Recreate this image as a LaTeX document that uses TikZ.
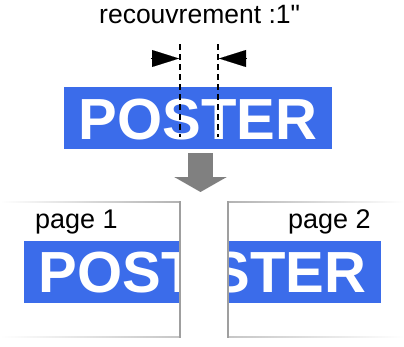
\documentclass[tikz,border=0pt]{standalone}
\usepackage{fontspec}
\setmainfont{Liberation Sans}
\usepackage{tikz}
\usetikzlibrary{arrows.meta}
\definecolor{posterblue}{RGB}{59,108,234}

\begin{document}
\begin{tikzpicture}[x=1pt,y=-1pt,
		bande/.style={fill=posterblue, inner sep=0pt, minimum width=268pt, minimum height=62pt},
		poster/.style={bande, text=white, font=\fontsize{58}{60}\selectfont\bfseries,
			text height=42pt, text depth=0pt},
		morceau/.style={text=white, inner sep=0pt, font=\fontsize{58}{60}\selectfont\bfseries,
			text height=42pt, text depth=0pt},
		lbl/.style={anchor=base west, inner sep=0pt, font=\fontsize{27}{30}\selectfont},
		cut/.style={line width=2pt, dash pattern=on 6pt off 4pt},
		dimtip/.style={line width=0.1pt, -{Triangle[length=27pt,width=17pt]}},
		edge/.style={gray!75, line width=1.5pt}]
	\useasboundingbox (0,0) rectangle (404,346);
	\node[lbl, font=\fontsize{26.5}{30}\selectfont] (titre) at (99,23) {recouvrement :1\textquotedbl};
	\node[poster] (affiche) at (198,118) {POSTER};
	\coordinate (c1h) at (180,44); \coordinate (c1b) at (180,137);
	\coordinate (c2h) at (218,44); \coordinate (c2b) at (218,137);
	\draw[cut] (c1h) -- (c1b);
	\draw[cut] (c2h) -- (c2b);
	\coordinate (g1) at (151,58.5); \coordinate (g2) at (179,58.5);
	\coordinate (d1) at (246,58.5); \coordinate (d2) at (219,58.5);
	\draw[dimtip] (g1) -- (g2);
	\draw[dimtip] (d1) -- (d2);
	\coordinate (f1) at (200.5,153); \coordinate (f2) at (200.5,192);
	\draw[gray, line width=25pt, -{Triangle[length=15pt,width=52pt]}] (f1) -- (f2);
	% page 1
	\begin{scope}
		\clip (0,195) rectangle (180,345);
		\node[bande] (page1) at (158,271.5) {};
		\node[morceau, anchor=west] (txt1) at ([xshift=14.75pt]page1.west) {POST};
	\end{scope}
	\shade[left color=white, right color=gray!60] (0,201) rectangle (180,202.5);
	\shade[left color=white, right color=gray!45] (0,336) rectangle (180,337.5);
	\draw[edge] (180,201) -- (180,337.5);
	\node[lbl] (p1) at (35,228) {page 1};
	% page 2
	\begin{scope}
		\clip (228,195) rectangle (404,345);
		\node[bande] (page2) at (247,271.5) {};
		\node[morceau, anchor=east] (txt2) at ([xshift=-14.75pt]page2.east) {STER};
	\end{scope}
	\shade[left color=gray!60, right color=white] (228,201) rectangle (404,202.5);
	\shade[left color=gray!45, right color=white] (228,336) rectangle (404,337.5);
	\draw[edge] (228,201) -- (228,337.5);
	\node[lbl] (p2) at (288,228) {page 2};
\end{tikzpicture}
\end{document}
